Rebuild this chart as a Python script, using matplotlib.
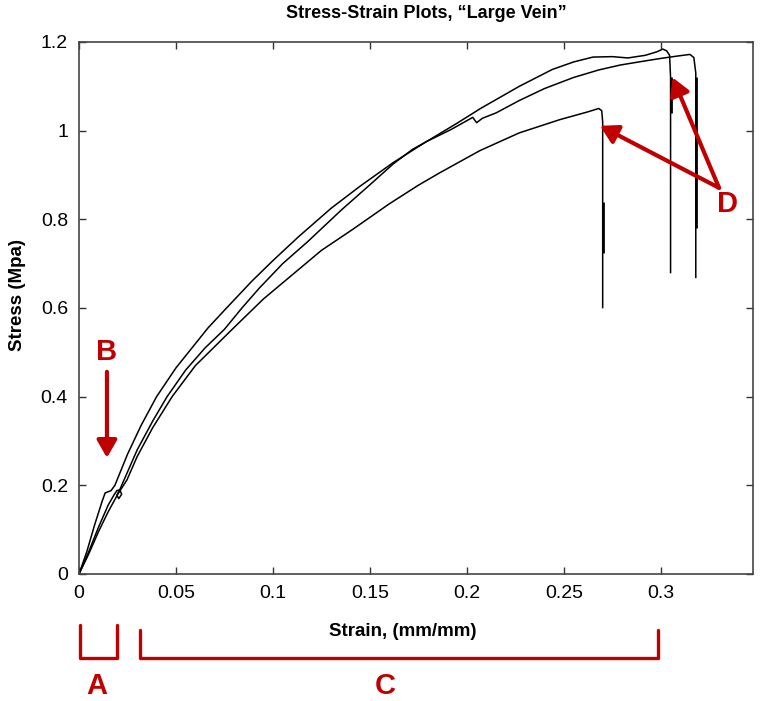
import numpy as np
import matplotlib
matplotlib.use("Agg")
import matplotlib.pyplot as plt

# three stress-strain curves (strain mm/mm, stress MPa)
curve1_strain = [0, 0.004, 0.008, 0.012, 0.0135, 0.0165, 0.0185, 0.025, 0.032, 0.040,
                 0.050, 0.0665, 0.075, 0.089, 0.100, 0.113, 0.130, 0.145, 0.162, 0.179,
                 0.195, 0.207, 0.227, 0.244, 0.255, 0.265, 0.275, 0.283, 0.292, 0.298,
                 0.301, 0.303, 0.3045, 0.305, 0.305]
curve1_stress = [0, 0.05, 0.11, 0.165, 0.183, 0.188, 0.20, 0.27, 0.335, 0.40,
                 0.465, 0.555, 0.595, 0.66, 0.707, 0.76, 0.825, 0.875, 0.928, 0.975,
                 1.017, 1.05, 1.10, 1.138, 1.155, 1.166, 1.167, 1.164, 1.170, 1.178,
                 1.184, 1.18, 1.17, 1.12, 0.68]

curve2_strain = [0, 0.005, 0.010, 0.015, 0.018, 0.0195, 0.021, 0.022, 0.0205, 0.0195,
                 0.021, 0.024, 0.030, 0.038, 0.0454, 0.055, 0.065, 0.075, 0.084, 0.093,
                 0.105, 0.118, 0.135, 0.150, 0.162, 0.172, 0.179, 0.192, 0.203, 0.205,
                 0.208, 0.215, 0.227, 0.240, 0.255, 0.268, 0.279, 0.290, 0.300, 0.308,
                 0.315, 0.317, 0.318, 0.318]
curve2_stress = [0, 0.05, 0.105, 0.155, 0.178, 0.188, 0.19, 0.18, 0.17, 0.178,
                 0.19, 0.22, 0.28, 0.345, 0.40, 0.46, 0.51, 0.552, 0.60, 0.645,
                 0.70, 0.75, 0.82, 0.878, 0.925, 0.958, 0.975, 1.003, 1.030, 1.018,
                 1.028, 1.04, 1.068, 1.095, 1.12, 1.137, 1.148, 1.156, 1.163, 1.168,
                 1.172, 1.165, 1.13, 0.669]

curve3_strain = [0, 0.005, 0.010, 0.015, 0.020, 0.0247, 0.030, 0.038, 0.048, 0.060,
                 0.079, 0.095, 0.110, 0.125, 0.141, 0.160, 0.175, 0.186, 0.2067, 0.227,
                 0.248, 0.262, 0.268, 0.2695, 0.270, 0.270]
curve3_stress = [0, 0.045, 0.095, 0.14, 0.18, 0.212, 0.265, 0.33, 0.40, 0.47,
                 0.552, 0.62, 0.675, 0.73, 0.777, 0.835, 0.877, 0.905, 0.955, 0.995,
                 1.025, 1.042, 1.05, 1.045, 1.02, 0.601]

# parts of the failure drops where the trace runs over itself (drawn heavier)
drop_strain = [0.305, 0.318, 0.270]
drop_top = [1.12, 1.12, 0.84]
drop_bottom = [1.04, 0.78, 0.725]

x_ticks = [0, 0.05, 0.1, 0.15, 0.2, 0.25, 0.3]
x_tick_labels = ["0", "0.05", "0.1", "0.15", "0.2", "0.25", "0.3"]
y_ticks = [0, 0.2, 0.4, 0.6, 0.8, 1.0, 1.2]
y_tick_labels = ["0", "0.2", "0.4", "0.6", "0.8", "1", "1.2"]

RED = "#c00000"

plt.rcParams["font.family"] = ["Liberation Sans", "DejaVu Sans"]

fig = plt.figure(figsize=(7.62, 7.01), dpi=100)
ax = fig.add_axes([79 / 762, 1 - 574 / 701, (753 - 79) / 762, (574 - 42) / 701])

for xs, ys in [(curve1_strain, curve1_stress), (curve2_strain, curve2_stress),
               (curve3_strain, curve3_stress)]:
    ax.plot(xs, ys, color="black", lw=1.1, solid_joinstyle="round")
ax.vlines(drop_strain, drop_bottom, drop_top, color="black", lw=2.0)

ax.set_xlim(0, 0.3475)
ax.set_ylim(0, 1.2)
ax.set_xticks(x_ticks)
ax.set_xticklabels(x_tick_labels)
ax.set_yticks(y_ticks)
ax.set_yticklabels(y_tick_labels)
ax.tick_params(direction="in", length=5, width=1, top=True, right=True,
               labelsize=14, pad=8, colors="#333333", labelcolor="black")
for s in ax.spines.values():
    s.set_color("#444444")
    s.set_linewidth(1.2)

fig.text(426 / 762, 1 - 13 / 701, "Stress-Strain Plots, \u201cLarge Vein\u201d",
         ha="center", va="center", fontsize=13, fontweight="bold")
fig.text(403 / 762, 1 - 632 / 701, "Strain, (mm/mm)", ha="center", va="center",
         fontsize=13.5, fontweight="bold")
fig.text(18 / 762, 1 - 295 / 701, "Stress (Mpa)", ha="center", va="center",
         rotation=90, fontsize=13.5, fontweight="bold")

# red markup: arrows, letters and brackets
arrow_kw = dict(arrowstyle="-|>,head_length=0.7,head_width=0.4", color=RED, lw=3,
                mutation_scale=15, shrinkA=0, shrinkB=0)
ax.annotate("", xy=(0.0144, 0.262), xytext=(0.0144, 0.456), arrowprops=arrow_kw,
            annotation_clip=False)
ax.text(0.0144, 0.501, "B", color=RED, fontsize=21, fontweight="bold",
        ha="center", va="center")

ax.annotate("", xy=(0.2686, 1.011), xytext=(0.330, 0.871), arrowprops=arrow_kw)
ax.annotate("", xy=(0.306, 1.12), xytext=(0.330, 0.871), arrowprops=arrow_kw)
ax.text(0.3345, 0.835, "D", color=RED, fontsize=21, fontweight="bold",
        ha="center", va="center")

brackets = [(0.0005, 0.0196, -0.115, -0.19, "A", 0.0093),
            (0.0314, 0.2985, -0.126, -0.19, "C", 0.158)]
for x0, x1, ytop, ybot, letter, xl in brackets:
    ax.plot([x0, x0, x1, x1], [ytop, ybot, ybot, ytop], color=RED, lw=2.4,
            clip_on=False, solid_joinstyle="round", solid_capstyle="round")
    ax.text(xl, -0.252, letter, color=RED, fontsize=21, fontweight="bold",
            ha="center", va="center", clip_on=False)

fig.savefig("out.png", dpi=100)
